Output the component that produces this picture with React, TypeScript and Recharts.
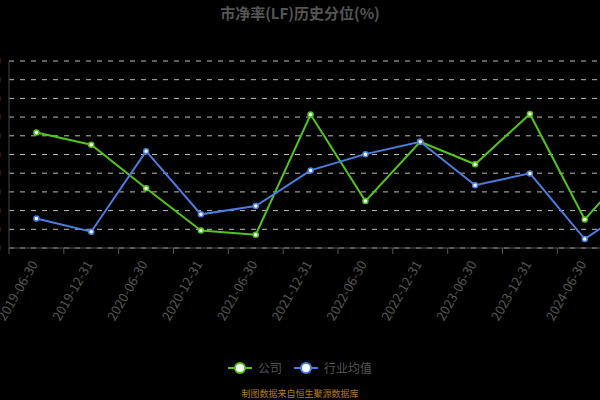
import React from 'react';
import { LineChart, Line, XAxis, YAxis, CartesianGrid } from 'recharts';

// report dates (last one falls outside the visible window)
const dates = [
  '2019-06-30', '2019-12-31', '2020-06-30', '2020-12-31', '2021-06-30', '2021-12-31',
  '2022-06-30', '2022-12-31', '2023-06-30', '2023-12-31', '2024-06-30', '2024-12-31',
];
const companyPct = [61.8, 55.2, 32.0, 9.4, 7.1, 71.4, 25.1, 56.8, 44.8, 71.7, 15.3, 48.0];
const industryPct = [15.8, 8.7, 51.8, 18.0, 22.4, 41.5, 50.2, 56.8, 33.6, 39.9, 4.8, 24.7];
const yTicks = [0, 10, 20, 30, 40, 50, 60, 70, 80, 90, 100];

const data = dates.map((d, i) => ({ date: d, 公司: companyPct[i], 行业均值: industryPct[i] }));

const GREEN = '#52c41a';
const BLUE = '#4a7ee0';
const FONT = '"Noto Sans CJK SC", "Noto Sans", sans-serif';

const series = [
  { key: '公司', color: GREEN },
  { key: '行业均值', color: BLUE },
];

const CHART_W = 738;
const Y_W = 60;
const RIGHT = 20;
const BAND = (CHART_W - Y_W - RIGHT) / dates.length;

// label at category centre, tick mark at the category boundary
const DateTick = (props: any) => {
  const { x, y, payload } = props;
  return (
    <g>
      <line x1={x - BAND / 2} y1={y - 8} x2={x - BAND / 2} y2={y - 2} stroke="#555" />
      <g transform={`translate(${x + 2},${y + 8})`}>
        <text textAnchor="end" transform="rotate(-60)" fill="#555" fontSize={13} fontFamily={FONT}>
          {payload.value}
        </text>
      </g>
    </g>
  );
};

const LegendBox = () => (
  <div
    style={{
      position: 'absolute', top: 359, left: 0, width: 600,
      display: 'flex', justifyContent: 'center', alignItems: 'center',
    }}
  >
    {series.map((s) => (
      <div key={s.key} style={{ display: 'flex', alignItems: 'center', margin: '0 6px' }}>
        <svg width={24} height={14}>
          <line x1={0} y1={7} x2={24} y2={7} stroke={s.color} strokeWidth={2} />
          <circle cx={12} cy={7} r={5} fill="#fff" stroke={s.color} strokeWidth={2} />
        </svg>
        <span style={{ color: '#555', fontSize: 12, marginLeft: 6 }}>{s.key}</span>
      </div>
    ))}
  </div>
);

export default function App() {
  return (
    <div
      style={{
        position: 'absolute', top: 0, left: 0, width: 600, height: 400,
        background: '#000', overflow: 'hidden', fontFamily: FONT,
      }}
    >
      <div
        style={{
          position: 'absolute', top: 2, left: 0, width: 600, textAlign: 'center',
          color: '#555', fontSize: 15, fontWeight: 'bold',
        }}
      >
        市净率(LF)历史分位(%)
      </div>
      <div style={{ position: 'absolute', top: 0, left: -51 }}>
        <LineChart width={CHART_W} height={400} data={data} margin={{ top: 61, right: RIGHT, bottom: 0, left: 0 }}>
          <CartesianGrid vertical={false} stroke="#bbb" strokeDasharray="5 6" />
          <XAxis
            dataKey="date"
            scale="band"
            height={152}
            interval={0}
            tickLine={false}
            stroke="#555"
            tick={<DateTick />}
          />
          <YAxis
            width={Y_W}
            domain={[0, 100]}
            ticks={yTicks}
            interval={0}
            tickLine={false}
            stroke="#444"
            tick={{ fill: '#555', fontSize: 12 }}
          />
          {series.map((s) => (
            <Line
              key={s.key}
              type="linear"
              dataKey={s.key}
              stroke={s.color}
              strokeWidth={2}
              dot={{ r: 2.5, fill: '#fff', stroke: s.color, strokeWidth: 1.5 }}
              isAnimationActive={false}
            />
          ))}
        </LineChart>
      </div>
      <LegendBox />
      <div
        style={{
          position: 'absolute', top: 387, left: 0, width: 600, textAlign: 'center',
          color: '#b07a1e', fontSize: 9,
        }}
      >
        制图数据来自恒生聚源数据库
      </div>
    </div>
  );
}
